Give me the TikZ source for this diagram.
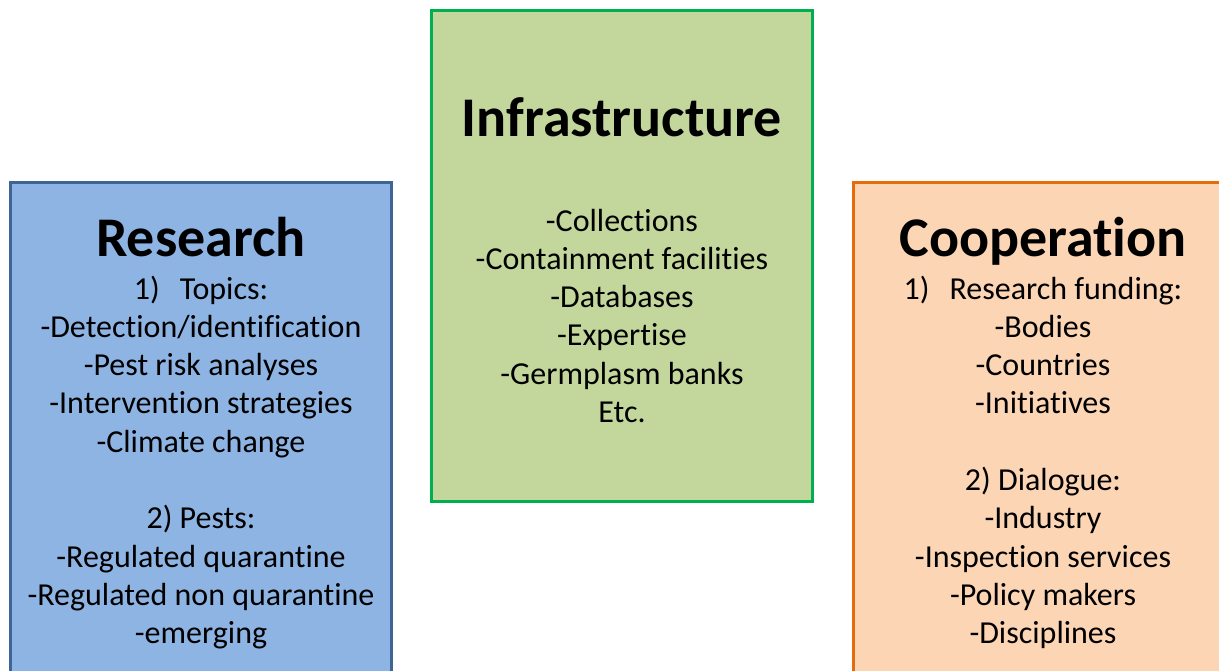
\documentclass[tikz,border=0pt]{standalone}
\usepackage{fontspec}
\setmainfont{Carlito}[Ligatures=NoCommon]
\usepackage{tikz}
\usetikzlibrary{positioning}
\definecolor{resfill}{HTML}{8EB4E3}
\definecolor{resline}{HTML}{3F6496}
\definecolor{inffill}{HTML}{C3D69B}
\definecolor{infline}{HTML}{00B050}
\definecolor{copfill}{HTML}{FCD5B5}
\definecolor{copline}{HTML}{E46C0A}
\tikzset{panel/.style={draw, line width=3pt, rectangle, inner sep=0pt, outer sep=0pt, minimum width=381pt}}
\tikzset{heading/.style={font=\fontsize{56}{60}\selectfont\bfseries, inner sep=0pt, anchor=base}}
\tikzset{items/.style={font=\fontsize{32}{38.3}\selectfont, align=center, inner sep=0pt, anchor=base}}

\begin{document}
\begin{tikzpicture}[x=1pt,y=-1pt]
\useasboundingbox (0,0) rectangle (1219,670);
\clip (0,0) rectangle (1219,670);
\node[panel, fill=resfill, draw=resline, minimum height=560pt, anchor=north west] (research) at (10.5,182.5) {};
\node[panel, fill=inffill, draw=infline, minimum height=491pt, anchor=north west] (infra) at (431.5,10.5) {};
\node[panel, fill=copfill, draw=copline, minimum height=560pt, anchor=north west] (coop) at (853.5,182.5) {};
% titles
\node[heading] (restitle) at (201,256) {Research};
\node[heading] (inftitle) at (622,136) {Infrastructure};
\node[heading] (coptitle) at (1043,256) {Cooperation};
% lists (base = last line)
\node[items] (reslist) at (201,643.7) {1)\hspace{20pt}Topics:\\-Detection/identification\\-Pest risk analyses\\-Intervention strategies\\-Climate change\\[38.3pt]2) Pests:\\-Regulated quarantine\\-Regulated non quarantine\\-emerging};
\node[items] (inflist) at (622,422.5) {-Collections\\-Containment facilities\\-Databases\\-Expertise\\-Germplasm banks\\Etc.};
\node[items] (coplist) at (1043,643.7) {1)\hspace{20pt}Research funding:\\-Bodies\\-Countries\\-Initiatives\\[38.3pt]2) Dialogue:\\-Industry\\-Inspection services\\-Policy makers\\-Disciplines};
\end{tikzpicture}
\end{document}
